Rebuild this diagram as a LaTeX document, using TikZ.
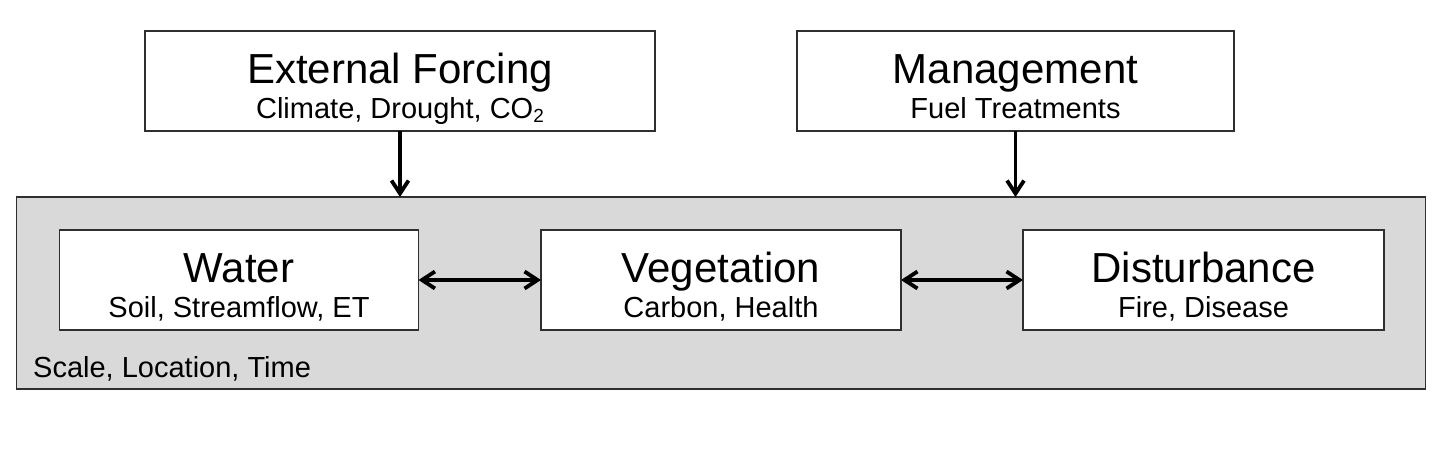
\documentclass[tikz,border=0pt]{standalone}
\usepackage{fontspec}
\setmainfont{Liberation Sans}
\usetikzlibrary{arrows.meta,calc}
\definecolor{panelgray}{HTML}{D9D9D9}
\definecolor{edgegray}{HTML}{2F2F2F}
\newcommand{\mysubtwo}{\raisebox{-0.32ex}{\fontsize{19}{20}\selectfont 2}}
\begin{document}
\begin{tikzpicture}[x=1pt,y=-1pt,
  box/.style={draw=edgegray, line width=1.6pt, fill=white, inner sep=0pt, outer sep=0pt, minimum height=100pt},
  panel/.style={draw=edgegray, line width=1.6pt, fill=panelgray, inner sep=0pt, outer sep=0pt},
  ttl/.style={anchor=base, inner sep=0pt, font=\fontsize{42}{50}\selectfont},
  sub/.style={anchor=base, inner sep=0pt, font=\fontsize{29}{35}\selectfont},
  varrow/.style={line width=3.8pt, -{Straight Barb[length=13pt,width=17pt]}},
  harrow/.style={line width=3.8pt, {Straight Barb[length=13pt,width=17pt]}-{Straight Barb[length=13pt,width=17pt]}}
]
\useasboundingbox (0,0) rectangle (1445,455);

% outer panel
\node[panel, minimum width=1409pt, minimum height=192pt] (outer) at (721,293) {};

% top boxes
\node[box, minimum width=510pt] (ext) at (400,81) {};
\node[ttl] (extT) at ($(ext.center)+(0,2)$) {External Forcing};
\node[sub] (extS) at ($(ext.center)+(0,37)$) {Climate, Drought, CO\mysubtwo};

\node[box, minimum width=437pt] (mgmt) at (1015.5,81) {};
\node[ttl] (mgmtT) at ($(mgmt.center)+(0,2)$) {Management};
\node[sub] (mgmtS) at ($(mgmt.center)+(0,37)$) {Fuel Treatments};

% inner boxes
\node[box, minimum width=359pt] (water) at (239,280) {};
\node[ttl] (waterT) at ($(water.center)+(0,2.5)$) {Water};
\node[sub] (waterS) at ($(water.center)+(0,37.5)$) {Soil, Streamflow, ET};

\node[box, minimum width=360pt] (veg) at (721,280) {};
\node[ttl] (vegT) at ($(veg.center)+(0,2.5)$) {Vegetation};
\node[sub] (vegS) at ($(veg.center)+(0,37.5)$) {Carbon, Health};

\node[box, minimum width=361pt] (dist) at (1203.5,280) {};
\node[ttl] (distT) at ($(dist.center)+(0,2.5)$) {Disturbance};
\node[sub] (distS) at ($(dist.center)+(0,37.5)$) {Fire, Disease};

\node[sub, anchor=base west] (slt) at (33,377) {Scale, Location, Time};

% connectors
\draw[varrow] (ext.south) -- (ext.south |- outer.north);
\draw[varrow] (mgmt.south) -- (mgmt.south |- outer.north);
\draw[harrow] (water.east) -- (veg.west);
\draw[harrow] (veg.east) -- (dist.west);
\end{tikzpicture}
\end{document}
